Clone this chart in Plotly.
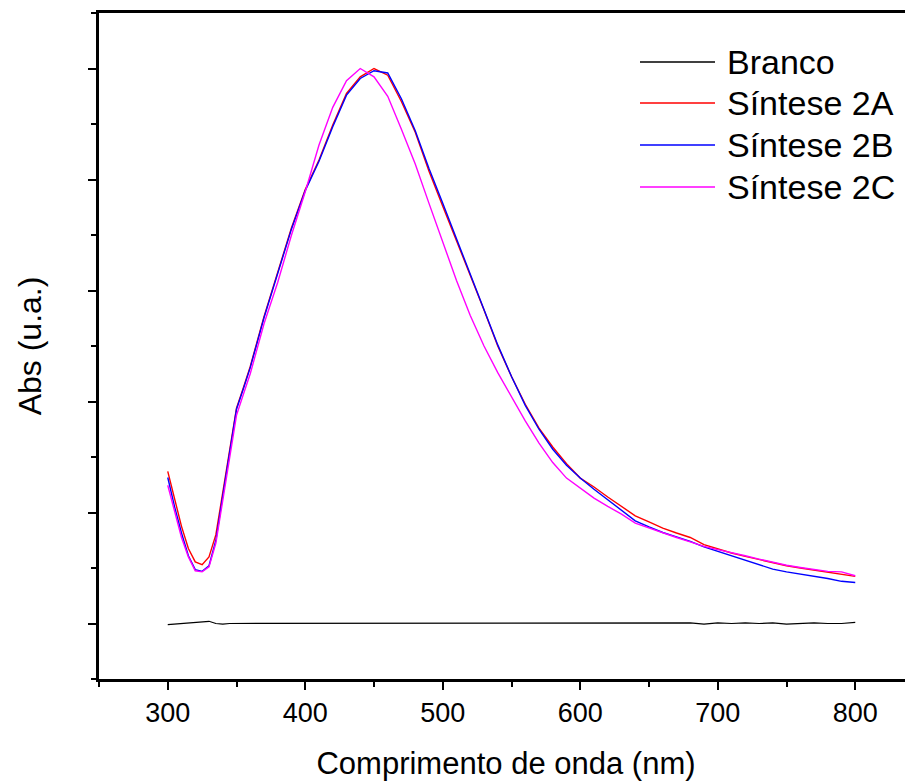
import plotly.graph_objects as go

wavelength = [300, 305, 310, 315, 320, 325, 330, 335, 340, 345, 350, 355, 360, 370, 380, 390,
              400, 410, 420, 430, 440, 450, 460, 470, 480, 490,
              500, 510, 520, 530, 540, 550, 560, 570, 580, 590,
              600, 610, 620, 630, 640, 650, 660, 670, 680, 690,
              700, 710, 720, 730, 740, 750, 760, 770, 780, 790, 800]

branco = [-0.002, -0.001, 0.000, 0.000, 0.001, 0.002, 0.004, 0.000, -0.001, 0.000, 0.000, 0.000, 0.001, 0.000, 0.000, 0.001,
          0.000, 0.000, 0.001, 0.000, 0.000, 0.001, 0.000, 0.000, 0.000, 0.000,
          0.000, 0.000, 0.000, 0.000, 0.000, 0.000, 0.000, 0.000, 0.000, 0.000,
          0.000, 0.000, 0.000, 0.000, 0.000, 0.000, 0.001, 0.000, 0.001, -0.001,
          0.001, 0.000, 0.001, 0.000, 0.001, -0.001, 0.000, 0.001, 0.000, 0.000, 0.002]

sintese_2a = [0.274, 0.222, 0.175, 0.135, 0.111, 0.106, 0.120, 0.160, 0.238, 0.318, 0.388, 0.425, 0.463, 0.553, 0.633, 0.713,
              0.782, 0.835, 0.898, 0.955, 0.985, 1.000, 0.988, 0.940, 0.885, 0.815,
              0.752, 0.690, 0.625, 0.565, 0.500, 0.445, 0.395, 0.352, 0.318, 0.288,
              0.262, 0.246, 0.228, 0.211, 0.194, 0.183, 0.172, 0.163, 0.155, 0.142,
              0.134, 0.127, 0.121, 0.115, 0.109, 0.104, 0.100, 0.096, 0.092, 0.089, 0.085]

sintese_2b = [0.263, 0.210, 0.163, 0.122, 0.097, 0.094, 0.104, 0.150, 0.230, 0.312, 0.386, 0.423, 0.461, 0.551, 0.631, 0.711,
              0.780, 0.833, 0.895, 0.952, 0.982, 0.996, 0.992, 0.945, 0.888, 0.820,
              0.757, 0.693, 0.628, 0.566, 0.502, 0.445, 0.393, 0.350, 0.314, 0.285,
              0.262, 0.242, 0.223, 0.204, 0.185, 0.174, 0.164, 0.156, 0.148, 0.138,
              0.130, 0.121, 0.113, 0.106, 0.098, 0.093, 0.089, 0.086, 0.081, 0.076, 0.074]

sintese_2c = [0.249, 0.200, 0.155, 0.120, 0.095, 0.093, 0.102, 0.145, 0.222, 0.302, 0.375, 0.413, 0.450, 0.540, 0.615, 0.700,
              0.778, 0.862, 0.930, 0.978, 1.000, 0.985, 0.950, 0.890, 0.828, 0.757,
              0.688, 0.618, 0.555, 0.500, 0.452, 0.408, 0.365, 0.325, 0.290, 0.262,
              0.244, 0.226, 0.211, 0.197, 0.181, 0.172, 0.163, 0.155, 0.147, 0.139,
              0.133, 0.128, 0.122, 0.116, 0.110, 0.105, 0.101, 0.098, 0.094, 0.093, 0.086]

series_names = ["Branco", "Síntese 2A", "Síntese 2B", "Síntese 2C"]
series_values = [branco, sintese_2a, sintese_2b, sintese_2c]
series_colors = ["#000000", "#FF0000", "#0000FF", "#FF00FF"]
series_widths = [1.2, 1.4, 1.4, 1.4]

x_tickvals = [300, 400, 500, 600, 700, 800]
x_ticktext = ["300", "400", "500", "600", "700", "800"]

FONT = "Arial, Liberation Sans, Helvetica, sans-serif"

fig = go.Figure()
for name, vals, col, w in zip(series_names, series_values, series_colors, series_widths):
    fig.add_trace(go.Scatter(x=wavelength, y=vals, mode="lines", name=name,
                             line=dict(color=col, width=w), showlegend=False))

# legend drawn manually (long line samples like the original)
leg_y = [0.9264, 0.8649, 0.8018, 0.7387]
for name, col, yy in zip(series_names, series_colors, leg_y):
    fig.add_shape(type="line", xref="paper", yref="paper",
                  x0=0.6646, x1=0.7568, y0=yy, y1=yy,
                  line=dict(color=col, width=1.4))
    fig.add_annotation(xref="paper", yref="paper", x=0.7690, y=yy,
                       text=name, showarrow=False, xanchor="left", yanchor="middle",
                       font=dict(family=FONT, size=34, color="#000000"))

fig.update_layout(
    width=905, height=774,
    margin=dict(l=91, r=0, t=5, b=103),
    paper_bgcolor="white", plot_bgcolor="white",
    font=dict(family=FONT, color="#000000"),
    showlegend=False,
)

fig.update_xaxes(
    range=[250, 842], showgrid=False, zeroline=False,
    showline=True, linecolor="#000000", linewidth=2.5, mirror=True,
    ticks="outside", ticklen=8, tickwidth=2, tickcolor="#000000",
    tickvals=x_tickvals, ticktext=x_ticktext,
    tickfont=dict(family=FONT, size=27, color="#000000"),
    minor=dict(dtick=50, tick0=250, ticks="outside", ticklen=5, tickwidth=2, tickcolor="#000000"),
    title=dict(text="Comprimento de onda (nm)", font=dict(family=FONT, size=31, color="#000000"),
               standoff=26),
)

fig.update_yaxes(
    range=[-0.1, 1.1], showgrid=False, zeroline=False,
    showline=True, linecolor="#000000", linewidth=2.5,
    ticks="outside", ticklen=8, tickwidth=2, tickcolor="#000000",
    tick0=0, dtick=0.2, showticklabels=False,
    minor=dict(dtick=0.1, tick0=0, ticks="outside", ticklen=5, tickwidth=2, tickcolor="#000000"),
    title=dict(text="Abs (u.a.)", font=dict(family=FONT, size=32, color="#000000"),
               standoff=38),
)

fig.write_html("out.html")
